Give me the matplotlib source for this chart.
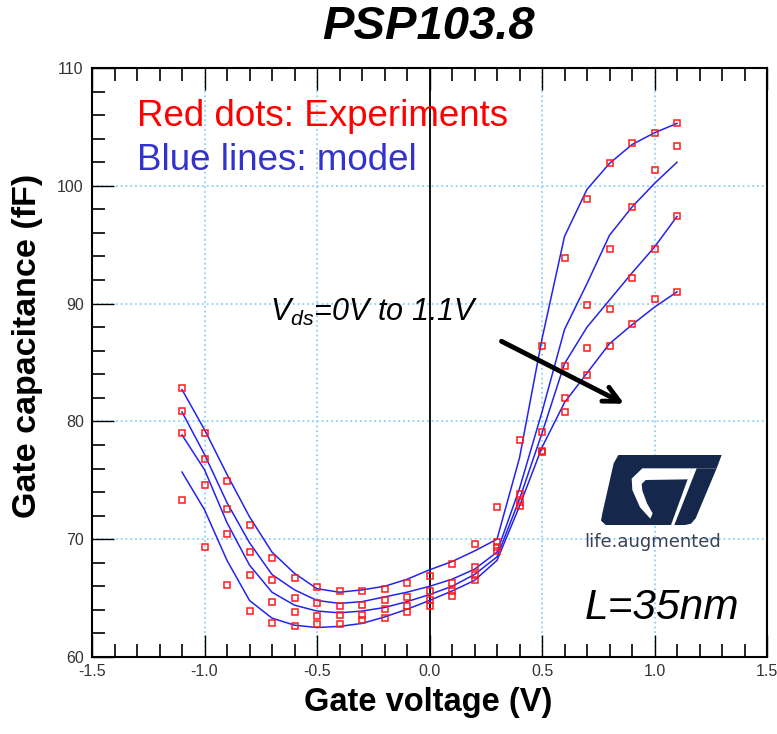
import numpy as np
import matplotlib
matplotlib.use('Agg')
import matplotlib.pyplot as plt
from matplotlib.patches import Polygon
from matplotlib.ticker import MultipleLocator, FormatStrFormatter

plt.rcParams['font.family'] = ['Liberation Sans', 'DejaVu Sans']
plt.rcParams['axes.unicode_minus'] = False
plt.rcParams['mathtext.fontset'] = 'custom'
plt.rcParams['mathtext.rm'] = 'Liberation Sans'
plt.rcParams['mathtext.it'] = 'Liberation Sans:italic'

# gate voltage sweep (V)
gate_v = [-1.1, -1.0, -0.9, -0.8, -0.7, -0.6, -0.5, -0.4, -0.3, -0.2, -0.1, 0.0,
          0.1, 0.2, 0.3, 0.4, 0.5, 0.6, 0.7, 0.8, 0.9, 1.0, 1.1]

# measured gate capacitance (fF), Vds = 0V ... 1.1V (top to bottom)
meas_1 = [82.8, 79.0, 74.9, 71.2, 68.4, 66.7, 65.9, 65.6, 65.6, 65.8, 66.3, 66.9,
          67.9, 69.6, 72.7, 78.4, 86.4, 93.9, 98.9, 101.9, 103.6, 104.5, 105.3]
meas_2 = [80.9, 76.8, 72.6, 68.9, 66.5, 65.0, 64.6, 64.3, 64.4, 64.8, 65.1, 65.6,
          66.3, 67.6, 69.8, 73.8, 79.1, 84.7, 89.9, 94.6, 98.2, 101.3, 103.4]
meas_3 = [79.0, 74.6, 70.4, 67.0, 64.7, 63.8, 63.5, 63.6, 63.6, 64.1, 64.3, 64.8,
          65.6, 67.0, 69.3, 73.2, 77.5, 82.0, 86.2, 89.5, 92.2, 94.6, 97.4]
meas_4 = [73.3, 69.3, 66.1, 63.9, 62.9, 62.6, 62.8, 62.8, 63.1, 63.3, 63.8, 64.3,
          65.2, 66.5, 69.0, 72.8, 77.4, 80.8, 83.9, 86.4, 88.3, 90.4, 91.0]

# PSP103.8 model curves
model_1 = [82.7, 79.3, 75.5, 71.9, 68.9, 67.1, 65.8, 65.5, 65.7, 66.0, 66.6, 67.4,
           68.1, 69.0, 70.0, 76.9, 87.0, 95.7, 99.7, 101.9, 103.5, 104.5, 105.3]
model_2 = [80.8, 77.2, 73.1, 69.7, 67.0, 65.7, 64.8, 64.55, 64.7, 65.1, 65.5, 66.0,
           66.6, 67.45, 68.9, 74.3, 80.8, 87.8, 91.7, 95.8, 98.2, 100.2, 102.0]
model_3 = [78.85, 75.9, 71.4, 67.8, 65.5, 64.4, 63.9, 63.75, 63.9, 64.2, 64.7, 65.3,
           66.0, 67.0, 68.5, 73.4, 79.0, 84.9, 88.0, 90.3, 92.6, 94.8, 97.4]
model_4 = [75.7, 72.5, 68.2, 64.8, 63.3, 62.7, 62.5, 62.6, 62.85, 63.4, 64.05, 64.8,
           65.6, 66.5, 68.2, 72.8, 77.8, 81.6, 84.1, 86.6, 88.2, 89.7, 91.0]

W, H = 777, 734


def fpos(x, y):
    # pixel position -> figure fraction
    return x / W, 1 - y / H


fig = plt.figure(figsize=(W / 100, H / 100), dpi=100)
ax = fig.add_axes([92 / W, 1 - 657 / H, 675 / W, 589 / H])

for m in [model_1, model_2, model_3, model_4]:
    ax.plot(gate_v, m, color='#2323f0', lw=1.1, zorder=3)
for d in [meas_1, meas_2, meas_3, meas_4]:
    ax.plot(gate_v, d, ls='none', marker='s', ms=5, mfc='none', mec='#ff1a1a',
            mew=1.1, zorder=4)

ax.set_xlim(-1.5, 1.5)
ax.set_ylim(60, 110)
ax.xaxis.set_major_locator(MultipleLocator(0.5))
ax.xaxis.set_minor_locator(MultipleLocator(0.1))
ax.yaxis.set_major_locator(MultipleLocator(10))
ax.yaxis.set_minor_locator(MultipleLocator(2))
ax.xaxis.set_major_formatter(FormatStrFormatter('%.1f'))

ax.grid(which='major', color='#8fd0f5', ls=':', lw=1.3)
ax.axvline(0, color='black', lw=1.3, zorder=2)

ax.tick_params(which='both', direction='in', top=True, right=False,
               labelsize=11.5, labelcolor='#333333', color='black')
ax.tick_params(which='minor', length=9.5, width=1.2)
ax.tick_params(which='major', length=16, width=1.0)
ax.tick_params(axis='x', pad=5)
ax.tick_params(axis='y', pad=6)
for t in ax.xaxis.get_major_ticks() + ax.yaxis.get_major_ticks():
    t.tick1line.set_linestyle(':')
    t.tick2line.set_linestyle(':')
for s in ax.spines.values():
    s.set_linewidth(1.5)

fig.text(*fpos(428, 27), 'PSP103.8', fontsize=34, fontweight='bold',
         fontstyle='italic', ha='center', va='center')
fig.text(*fpos(428, 703), 'Gate voltage (V)', fontsize=23.5, fontweight='bold',
         ha='center', va='center')
fig.text(*fpos(28, 346), 'Gate capacitance (fF)', fontsize=24.5, fontweight='bold',
         ha='center', va='center', rotation=90)

fig.text(*fpos(137, 116), 'Red dots: Experiments', fontsize=26.5, color='#ff0000',
         ha='left', va='center')
fig.text(*fpos(137, 160), 'Blue lines: model', fontsize=26.5, color='#3333cc',
         ha='left', va='center')
fig.text(*fpos(270, 312), r'$V_{ds}$=0V to 1.1V', fontsize=22, fontstyle='italic',
         ha='left', va='center')
fig.text(*fpos(585, 608), 'L=35nm', fontsize=30.5, fontstyle='italic',
         ha='left', va='center')

ax.annotate('', xy=(0.865, 81.5), xytext=(0.32, 86.8),
            arrowprops=dict(arrowstyle='->', lw=3.5, color='black',
                            mutation_scale=28, shrinkA=0, shrinkB=0))

# ST logo (drawn in pixel coordinates of the logo crop)
navy = '#15284b'


def logo_pts(pts):
    return [fpos(585 + x / 3, 450 + y / 3) for x, y in pts]


s_shape = [(100, 15), (410, 15), (395, 55), (320, 55), (258, 225), (62, 225),
           (48, 212), (52, 190), (86, 40)]
t_stem = [(335, 55), (395, 55), (332, 205), (318, 221), (300, 225), (268, 225)]
slot = [(320, 55), (172, 55), (140, 86), (142, 120), (165, 172), (196, 206),
        (203, 190), (186, 160), (172, 122), (170, 102), (182, 90), (310, 88)]
fig.patches.append(Polygon(logo_pts(s_shape), closed=True, fc=navy, ec='none',
                           transform=fig.transFigure, figure=fig))
fig.patches.append(Polygon(logo_pts(t_stem), closed=True, fc=navy, ec='none',
                           transform=fig.transFigure, figure=fig))
fig.patches.append(Polygon(logo_pts(slot), closed=True, fc='white', ec='none',
                           transform=fig.transFigure, figure=fig))
fig.text(*fpos(653, 542), 'life.augmented', fontsize=13, color='#3a4257',
         family='DejaVu Sans', ha='center', va='center')

fig.savefig('out.png', dpi=100)
